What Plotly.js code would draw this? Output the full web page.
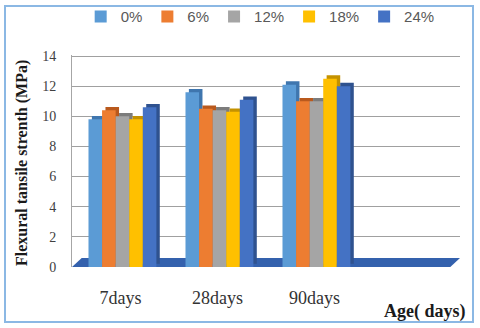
<!DOCTYPE html>
<html>
<head>
<meta charset="utf-8">
<script src="https://cdn.plot.ly/plotly-3.0.1.min.js"></script>
<style>
  body { margin: 0; background: #fff; }
  #chart { width: 480px; height: 328px; }
  #frame {
    position: absolute; left: 4px; top: 5px; width: 466px; height: 314px;
    border: 2px solid #8bb8e4; pointer-events: none;
  }
</style>
</head>
<body>
<div id="chart"></div>
<div id="frame"></div>
<script>
// categories and series
const categories = ['7days', '28days', '90days'];
const seriesNames = ['0%', '6%', '12%', '18%', '24%'];
const pct0 = [9.8, 11.6, 12.1];
const pct6 = [10.4, 10.5, 11.0];
const pct12 = [10.0, 10.4, 11.0];
const pct18 = [9.8, 10.3, 12.5];
const pct24 = [10.6, 11.1, 12.0];
const yTicks = [0, 2, 4, 6, 8, 10, 12, 14];

const allSeries = [pct0, pct6, pct12, pct18, pct24];

// colours: face and darker side/top shade
const faceColors = ['#5B9BD5', '#ED7D31', '#A5A5A5', '#FFC000', '#4472C4'];
const shadeColors = ['#3F76AE', '#B9591D', '#7C7C7C', '#C49200', '#2F528F'];

const barW = 0.14;
const groupStart = -0.33;

var traces = [];

// "depth" bars first, a bit to the right and up, so the fronts cover them
allSeries.forEach(function(vals, i) {
    traces.push({
        type: 'bar',
        x: categories,
        y: vals,
        base: 0.22,
        width: barW,
        offset: groupStart + i * barW + 0.035,
        marker: { color: shadeColors[i] },
        showlegend: false,
        hoverinfo: 'skip',
        legendgroup: seriesNames[i]
    });
});

allSeries.forEach(function(vals, i) {
    traces.push({
        type: 'bar',
        x: categories,
        y: vals,
        width: barW,
        offset: groupStart + i * barW,
        name: seriesNames[i],
        marker: { color: faceColors[i] },
        legendgroup: seriesNames[i]
    });
});

var layout = {
    width: 480,
    height: 328,
    // top a touch higher so the 14 gridline isn't clipped off
    margin: { l: 72, r: 20, t: 55, b: 61, autoexpand: false },
    paper_bgcolor: '#ffffff',
    plot_bgcolor: '#ffffff',
    barmode: 'overlay',
    font: { family: 'Liberation Serif, Times New Roman, serif', color: '#404040' },
    showlegend: true,
    legend: {
        orientation: 'h',
        x: 0.485,
        xanchor: 'center',
        y: 1.18,
        yanchor: 'middle',
        font: { family: 'Liberation Sans, Arial, sans-serif', size: 15, color: '#595959' },
        itemwidth: 30,
        traceorder: 'normal'
    },
    xaxis: {
        type: 'category',
        categoryorder: 'array',
        categoryarray: categories,
        range: [-0.5, 3.5],
        showgrid: false,
        zeroline: false,
        showline: false,
        ticks: 'outside',
        ticklen: 14,
        tickcolor: 'rgba(0,0,0,0)',
        tickfont: { size: 18, color: '#333333' }
    },
    yaxis: {
        range: [0, 14.07],
        tickvals: yTicks,
        ticktext: yTicks.map(String),
        showgrid: true,
        gridcolor: '#a0a0a0',
        gridwidth: 1,
        zeroline: false,
        showline: true,
        linecolor: '#a6a6a6',
        ticks: 'outside',
        ticklen: 12,
        tickcolor: 'rgba(0,0,0,0)',
        tickfont: { size: 14, color: '#404040' }
    },
    shapes: [
        // floor slab
        {
            type: 'path',
            xref: 'paper',
            yref: 'y',
            path: 'M 0,0 L 0.975,0 L 1,0.6 L 0.025,0.6 Z',
            fillcolor: '#3461AD',
            line: { width: 0 },
            layer: 'below'
        }
    ],
    annotations: [
        {
            text: '<b>Flexural tansile strenth (MPa)</b>',
            xref: 'paper', yref: 'paper',
            x: -0.129, y: 0.49,
            xanchor: 'center', yanchor: 'middle',
            textangle: -90,
            showarrow: false,
            font: { family: 'Liberation Serif, serif', size: 16, color: '#1a1a1a' }
        },
        {
            text: '<b>Age( days)</b>',
            xref: 'paper', yref: 'paper',
            x: 1.02, y: -0.21,
            xanchor: 'right', yanchor: 'middle',
            showarrow: false,
            font: { family: 'Liberation Serif, serif', size: 18, color: '#1a1a1a' }
        }
    ]
};

Plotly.newPlot('chart', traces, layout, { staticPlot: true });
</script>
</body>
</html>
